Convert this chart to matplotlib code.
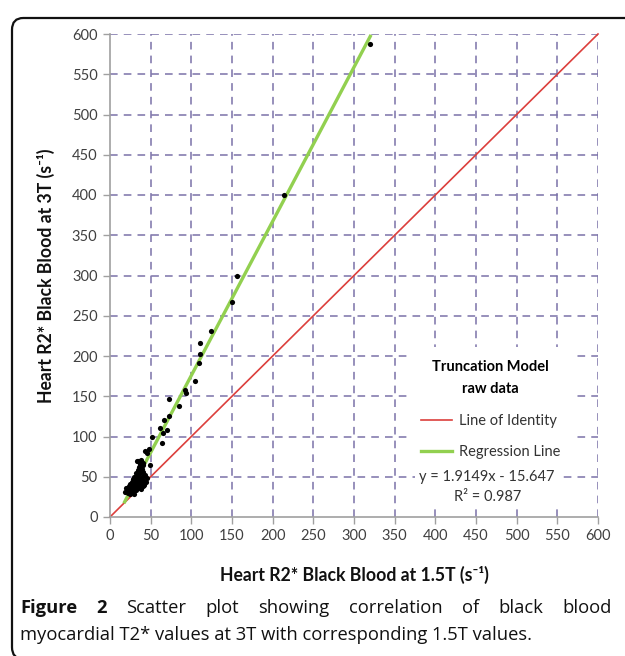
import matplotlib
matplotlib.use("Agg")
import matplotlib.pyplot as plt
from matplotlib.lines import Line2D
from matplotlib.patches import FancyBboxPatch
import numpy as np

# ---------------- data ----------------
x_15T = [320, 214, 156, 150, 124, 111, 110.7, 110, 105, 92, 93, 73, 85, 72, 66,
         62, 70, 65.5, 52, 63.5, 48, 43, 45, 49, 35,
         18, 20, 21, 22, 23, 24, 25, 25, 26, 27, 27, 28, 28, 29, 29, 30, 30, 31,
         31, 32, 32, 33, 33, 34, 34, 35, 35, 36, 36, 37, 37, 38, 38, 39, 39, 40,
         40, 41, 42, 43, 44, 46, 41, 38, 33, 37, 40]
y_3T = [588, 400, 300, 267, 231, 216, 202, 191, 169, 158, 154, 147, 138, 125, 120,
        111, 108, 104, 99, 91.5, 85, 82, 79, 64, 70,
        31, 36, 33, 30, 38, 34, 41, 29, 36, 44, 32, 39, 47, 35, 42, 50, 28, 38,
        45, 55, 33, 41, 48, 58, 36, 44, 52, 62, 39, 47, 55, 35, 42, 60, 50, 38,
        46, 56, 40, 52, 44, 48, 67, 71, 69, 66, 65]

slope = 1.9149
intercept = -15.647
r2 = 0.987

x_ticks = list(range(0, 601, 50))
y_ticks = list(range(0, 601, 50))

chart_font = ["Lato", "DejaVu Sans"]
cap_font = ["Open Sans", "DejaVu Sans"]

RED = "#dc3f3c"
GREEN = "#92d050"

W, H = 625, 656
fig = plt.figure(figsize=(W / 100, H / 100), dpi=100)

# outer rounded frame
frame = FancyBboxPatch((12 / W, 1 - 659 / H), (650 - 12) / W, (659 - 18) / H,
                       boxstyle="round,pad=0,rounding_size=0.018",
                       transform=fig.transFigure, fill=False,
                       edgecolor="#111111", linewidth=1.6, clip_on=False)
fig.patches.append(frame)

ax = fig.add_axes([110 / W, 1 - 517 / H, 488 / W, 483 / H])
ax.set_xlim(0, 600)
ax.set_ylim(0, 600)
ax.set_xticks(x_ticks)
ax.set_yticks(y_ticks)
ax.set_xticklabels([str(t) for t in x_ticks], fontfamily=chart_font, fontsize=10.5, color="#404040")
ax.set_yticklabels([str(t) for t in y_ticks], fontfamily=chart_font, fontsize=10.5, color="#404040")
ax.tick_params(direction="out", length=5, width=1, color="#a0a0a0", pad=4)

for s in ["top", "right"]:
    ax.spines[s].set_visible(False)
for s in ["left", "bottom"]:
    ax.spines[s].set_color("#a0a0a0")
    ax.spines[s].set_linewidth(1.2)

grid_color = "#7a72a8"
for t in x_ticks[1:]:
    ax.axvline(t, color=grid_color, lw=1.1, ls=(0, (5, 4)), zorder=0.5)
for t in y_ticks[1:]:
    ax.axhline(t, color=grid_color, lw=1.1, ls=(0, (5, 4)), zorder=0.5)

# identity line
ax.plot([0, 600], [0, 600], color=RED, lw=1.2, zorder=2, clip_on=False)
# regression line
xr = np.array([min(x_15T), max(x_15T)])
ax.plot(xr, slope * xr + intercept, color=GREEN, lw=2.4, zorder=3, clip_on=False)
# data
ax.scatter(x_15T, y_3T, s=14, color="black", zorder=4, linewidths=0, clip_on=False)

ax.set_xlabel("Heart R2* Black Blood at 1.5T (s⁻¹)", fontfamily=chart_font,
              fontsize=12.7, fontweight="bold", color="#111111", labelpad=16)
ax.set_ylabel("Heart R2* Black Blood at 3T (s⁻¹)", fontfamily=chart_font,
              fontsize=12.7, fontweight="bold", color="#111111", labelpad=12)

# legend
handles = [Line2D([], [], color=RED, lw=1.2),
           Line2D([], [], color=GREEN, lw=2.4)]
leg = ax.legend(handles, ["Line of Identity", "Regression Line"],
                title="Truncation Model\nraw data", loc="center",
                bbox_to_anchor=(0.78, 0.222), frameon=True, fancybox=False,
                prop={"family": chart_font, "size": 10.5},
                title_fontproperties={"family": chart_font, "size": 10.5, "weight": "bold"},
                handlelength=2.1, handletextpad=0.45, labelspacing=1.2,
                borderpad=0.9, borderaxespad=0, alignment="center")
leg.get_frame().set_facecolor("white")
leg.get_frame().set_edgecolor("none")
leg.get_frame().set_alpha(1)
leg.set_zorder(5)
leg.get_title().set_multialignment("center")
leg.get_title().set_linespacing(1.7)
for t in leg.get_texts():
    t.set_color("#333333")

ax.text(0.773, 0.062, f"y = {slope}x - {abs(intercept)}\nR² = {r2}",
        transform=ax.transAxes, ha="center", va="center", fontfamily=chart_font,
        fontsize=10.5, color="#333333", linespacing=1.5, zorder=6,
        bbox=dict(facecolor="white", edgecolor="none", pad=3))

# caption with justified first line
fig.canvas.draw()
renderer = fig.canvas.get_renderer()
cap_size = 13.2
line1 = [("Figure", "bold"), ("2", "bold"), ("Scatter", "normal"), ("plot", "normal"),
         ("showing", "normal"), ("correlation", "normal"), ("of", "normal"),
         ("black", "normal"), ("blood", "normal")]
x0, x1 = 20, 612
y1 = 1 - 613 / H
objs = []
widths = []
for w, wt in line1:
    t = fig.text(0, y1, w, fontfamily=cap_font, fontsize=cap_size, fontweight=wt,
                 color="#111111", ha="left", va="baseline")
    objs.append(t)
    widths.append(t.get_window_extent(renderer).width)
gap = ((x1 - x0) - sum(widths)) / (len(objs) - 1)
cx = x0
for t, wdt in zip(objs, widths):
    t.set_x(cx / W)
    cx += wdt + gap

fig.text(x0 / W, 1 - 640 / H, "myocardial T2* values at 3T with corresponding 1.5T values.",
         fontfamily=cap_font, fontsize=cap_size, color="#111111", ha="left", va="baseline")

fig.savefig("out.png", dpi=100)
